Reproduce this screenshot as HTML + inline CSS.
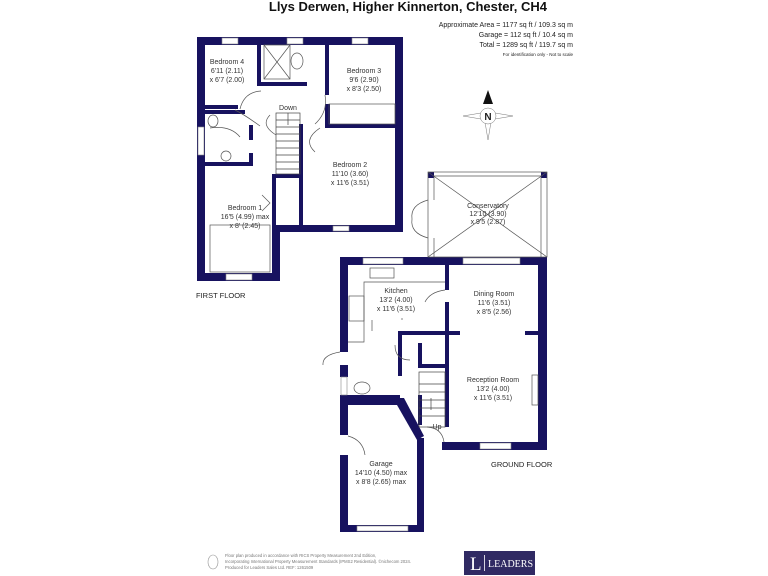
<!DOCTYPE html>
<html><head><style>
body{margin:0;background:#fff;width:768px;height:576px;overflow:hidden}
svg{display:block}
text{font-family:"Liberation Sans",sans-serif;fill:#222}
.r{font-size:7px;text-anchor:middle;fill:#333}
</style></head><body>
<svg width="768" height="576" viewBox="0 0 768 576">
<g fill="#17125f">
<rect x="197" y="37" width="206" height="8"/>
<rect x="197" y="37" width="8" height="244"/>
<rect x="395" y="37" width="8" height="195"/>
<rect x="280" y="225" width="123" height="7"/>
<rect x="272" y="225" width="8" height="56"/>
<rect x="197" y="273" width="83" height="8"/>
<rect x="257" y="45" width="4" height="40"/>
<rect x="257" y="82" width="50" height="4"/>
<rect x="325" y="45" width="4" height="50"/>
<rect x="325" y="104" width="5" height="24"/>
<rect x="325" y="124" width="78" height="4"/>
<rect x="205" y="105" width="33" height="4"/>
<rect x="205" y="110" width="40" height="4"/>
<rect x="249" y="125" width="4" height="15"/>
<rect x="249" y="153" width="4" height="13"/>
<rect x="205" y="162" width="48" height="4"/>
<rect x="299" y="124" width="4" height="101"/>
<rect x="276" y="174" width="24" height="4"/>
<rect x="272" y="174" width="4" height="51"/>
<rect x="340" y="257" width="207" height="8"/>
<rect x="538" y="257" width="9" height="193"/>
<rect x="442" y="442" width="105" height="8"/>
<rect x="340" y="257" width="8" height="95"/>
<rect x="340" y="365" width="8" height="12"/>
<rect x="445" y="265" width="4" height="25"/>
<rect x="445" y="302" width="4" height="125"/>
<rect x="398" y="331" width="62" height="4"/>
<rect x="525" y="331" width="13" height="4"/>
<rect x="398" y="331" width="4" height="45"/>
<rect x="418" y="343" width="4" height="24"/>
<rect x="418" y="364" width="27" height="4"/>
<rect x="340" y="395" width="60" height="3"/>
<rect x="340" y="398" width="8" height="37"/>
<rect x="340" y="455" width="8" height="77"/>
<rect x="340" y="398" width="60" height="7"/>
<polygon points="397,398 404,398 424,436 417,440 397,405"/>
<rect x="417" y="438" width="7" height="94"/>
<rect x="340" y="525" width="84" height="7"/>
<rect x="418" y="395" width="4" height="30"/>
<rect x="428" y="172" width="6" height="6"/><rect x="541" y="172" width="6" height="6"/>
</g>
<g fill="#fff" stroke="#888" stroke-width="0.6">
<rect x="222" y="38" width="16" height="6"/><rect x="287" y="38" width="16" height="6"/><rect x="352" y="38" width="16" height="6"/>
<rect x="333" y="226" width="16" height="5"/><rect x="226" y="274" width="26" height="6"/>
<rect x="198" y="127" width="6" height="28"/>
<rect x="363" y="258" width="40" height="6"/><rect x="463" y="258" width="57" height="6"/>
<rect x="480" y="443" width="31" height="6"/><rect x="357" y="526" width="51" height="5"/>
<rect x="341" y="377" width="6" height="18"/>
</g>
<g stroke="#555" stroke-width="0.7" fill="none">
<rect x="428" y="172" width="119" height="85"/>
<line x1="434" y1="176" x2="541" y2="176"/>
<line x1="541" y1="176" x2="541" y2="257"/>
<line x1="434" y1="176" x2="434" y2="200"/><line x1="434" y1="238" x2="434" y2="257"/>
<line x1="428" y1="172" x2="547" y2="257"/><line x1="547" y1="172" x2="428" y2="257"/>
<path d="M428 200 Q410 205 412 219 M428 238 Q410 233 412 219"/>
<path d="M240 109 Q244 92 261 91 M325 95 Q328 112 315 124 M270 115 Q260 125 276 135 M320 128 Q302 140 315 152 M210 128 Q230 125 240 137 M235 110 Q245 115 260 126"/>
<path d="M262 195 L270 203 L262 211"/>
<rect x="210" y="225" width="60" height="47"/>
<rect x="329" y="104" width="66" height="20"/>
<path d="M445 290 Q430 292 425 302 M340 352 Q322 355 323 365 M395 345 Q395 360 410 360 M348 436 Q363 440 365 455 M427 427 Q442 428 444 442"/>
<path d="M348 342 L364 342 L364 282 L445 282"/>
<path d="M402 318 L402 320 M372 320 L372 331"/>
<rect x="264" y="45" width="26" height="34"/>
<line x1="264" y1="45" x2="290" y2="79"/><line x1="290" y1="45" x2="264" y2="79"/>
<ellipse cx="297" cy="61" rx="6" ry="8"/>
<ellipse cx="213" cy="121" rx="5" ry="6"/>
<circle cx="226" cy="156" r="5"/>
<ellipse cx="362" cy="388" rx="8" ry="6"/>
<rect x="370" y="268" width="24" height="10"/>
<rect x="349" y="296" width="15" height="25"/>
<rect x="532" y="375" width="6" height="30"/>
</g>
<g stroke="#444" stroke-width="0.7">
<rect x="276" y="113" width="24" height="61" fill="none"/>
<line x1="276" y1="120" x2="300" y2="120"/><line x1="276" y1="127" x2="300" y2="127"/><line x1="276" y1="134" x2="300" y2="134"/><line x1="276" y1="141" x2="300" y2="141"/><line x1="276" y1="148" x2="300" y2="148"/><line x1="276" y1="155" x2="300" y2="155"/><line x1="276" y1="162" x2="300" y2="162"/><line x1="276" y1="169" x2="300" y2="169"/>
<line x1="288" y1="113" x2="288" y2="125"/>
<rect x="419" y="372" width="26" height="55" fill="none"/>
<line x1="419" y1="384" x2="445" y2="384"/><line x1="419" y1="392" x2="445" y2="392"/><line x1="419" y1="400" x2="445" y2="400"/><line x1="419" y1="408" x2="445" y2="408"/><line x1="419" y1="416" x2="445" y2="416"/>
<line x1="431" y1="410" x2="431" y2="398"/>
</g>
<text class="r" x="227" y="64">Bedroom 4</text><text class="r" x="227" y="73">6'11 (2.11)</text><text class="r" x="227" y="82">x 6'7 (2.00)</text>
<text class="r" x="364" y="73">Bedroom 3</text><text class="r" x="364" y="82">9'6 (2.90)</text><text class="r" x="364" y="91">x 8'3 (2.50)</text>
<text class="r" x="288" y="110">Down</text>
<text class="r" x="350" y="167">Bedroom 2</text><text class="r" x="350" y="176">11'10 (3.60)</text><text class="r" x="350" y="185">x 11'6 (3.51)</text>
<text class="r" x="245" y="210">Bedroom 1</text><text class="r" x="245" y="219">16'5 (4.99) max</text><text class="r" x="245" y="228">x 8' (2.45)</text>
<text x="196" y="298" style="font-size:7.5px">FIRST FLOOR</text>
<text class="r" x="488" y="208">Conservatory</text><text class="r" x="488" y="216">12'10 (3.90)</text><text class="r" x="488" y="224">x 9'5 (2.87)</text>
<text class="r" x="396" y="293">Kitchen</text><text class="r" x="396" y="302">13'2 (4.00)</text><text class="r" x="396" y="311">x 11'6 (3.51)</text>
<text class="r" x="494" y="296">Dining Room</text><text class="r" x="494" y="305">11'6 (3.51)</text><text class="r" x="494" y="314">x 8'5 (2.56)</text>
<text class="r" x="493" y="382">Reception Room</text><text class="r" x="493" y="391">13'2 (4.00)</text><text class="r" x="493" y="400">x 11'6 (3.51)</text>
<text class="r" x="437" y="429">Up</text>
<text x="491" y="467" style="font-size:7.5px">GROUND FLOOR</text>
<text class="r" x="381" y="466">Garage</text><text class="r" x="381" y="475">14'10 (4.50) max</text><text class="r" x="381" y="484">x 8'8 (2.65) max</text>
<text x="547" y="11" style="font-size:13px;font-weight:bold;text-anchor:end;fill:#111">Llys Derwen, Higher Kinnerton, Chester, CH4</text>
<text x="573" y="27" style="font-size:7px;text-anchor:end">Approximate Area = 1177 sq ft / 109.3 sq m</text>
<text x="573" y="37" style="font-size:7px;text-anchor:end">Garage = 112 sq ft / 10.4 sq m</text>
<text x="573" y="47" style="font-size:7px;text-anchor:end">Total = 1289 sq ft / 119.7 sq m</text>
<text x="573" y="56" style="font-size:4.5px;text-anchor:end">For identification only - Not to scale</text>
<g stroke="#777" stroke-width="0.5" fill="#fff">
<polygon points="463,116 481,113 481,119"/><polygon points="513,116 495,113 495,119"/>
<polygon points="488,140 485,122 491,122"/>
<circle cx="488" cy="116" r="8"/>
</g>
<polygon points="488,90 483,104 493,104" fill="#111"/>
<text x="488" y="120" style="font-size:10px;font-weight:bold;text-anchor:middle">N</text>
<ellipse cx="213" cy="562" rx="5" ry="7" fill="none" stroke="#999" stroke-width="0.6"/>
<text x="225" y="557" style="font-size:4.2px;fill:#777">Floor plan produced in accordance with RICS Property Measurement 2nd Edition,</text>
<text x="225" y="563" style="font-size:4.2px;fill:#777">Incorporating International Property Measurement Standards (IPMS2 Residential).  ©nichecom 2024.</text>
<text x="225" y="569" style="font-size:4.2px;fill:#777">Produced for Leaders Sales Ltd.   REF: 1261509</text>
<rect x="464" y="551" width="71" height="24" fill="#302a63"/>
<text x="470" y="570" style="font-size:19px;font-family:'Liberation Serif',serif;fill:#fff">L</text>
<rect x="484" y="555" width="0.8" height="16" fill="#fff"/>
<text x="488" y="567" style="font-size:10px;font-family:'Liberation Serif',serif;fill:#fff">LEADERS</text>
</svg>
</body></html>
